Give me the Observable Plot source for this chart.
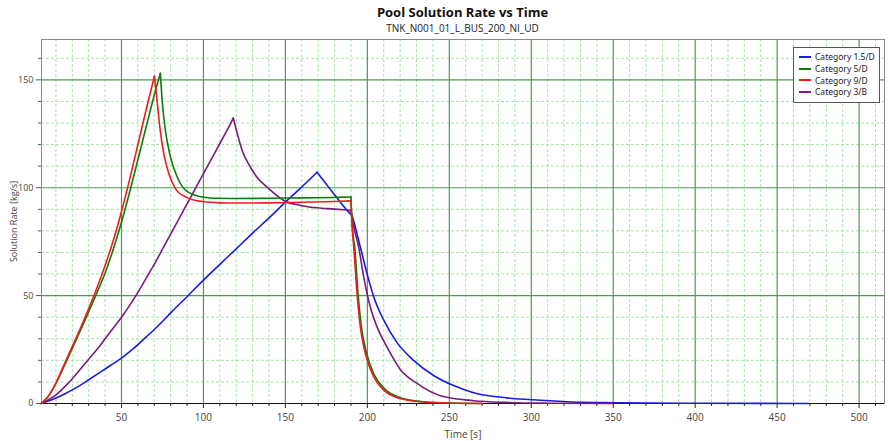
<!DOCTYPE html>
<html>
<head>
<meta charset="utf-8">
<script src="https://cdn.jsdelivr.net/npm/d3@7"></script>
<script src="https://cdn.jsdelivr.net/npm/@observablehq/plot@0.6"></script>
<style>
  body { margin: 0; background: #fff; font-family: "Open Sans", "Noto Sans", sans-serif; }
  #wrap { position: relative; width: 888px; height: 441px; }
  #title { position: absolute; left: 41px; width: 843px; top: 3px; text-align: center; font-weight: bold; font-size: 13px; color: #111; }
  #subtitle { position: absolute; left: 41px; width: 843px; top: 21px; text-align: center; font-size: 10px; color: #222; }
  #chart { position: absolute; left: 0; top: 34px; }
  #legend { position: absolute; left: 793px; top: 47px; width: 87px; height: 56px; background: #fff; border: 1px solid #555; font-size: 8.5px; color: #222; padding-top: 3px; box-sizing: border-box; white-space: nowrap; font-family: "Noto Sans", "Open Sans", sans-serif; }
  .item { display: flex; align-items: center; height: 11.7px; }
  .sw { width: 12px; height: 2px; margin-left: 5px; margin-right: 4px; flex: none; }
</style>
</head>
<body>
<div id="wrap">
  <div id="title">Pool Solution Rate vs Time</div>
  <div id="subtitle">TNK_N001_01_L_BUS_200_NI_UD</div>
  <div id="chart"></div>
  <div id="legend"></div>
</div>
<script>
// ---- Data ----
const seriesNames = ["Category 1.5/D", "Category 5/D", "Category 9/D", "Category 3/B"];
const seriesColors = ["#1a1ae6", "#0a7d0a", "#f01c1c", "#7a1a82"];

// Category 1.5/D (blue)
const blueT = [1, 5, 10, 15, 20, 25, 30, 35, 40, 45, 50, 55, 60, 65, 70, 75, 80, 90, 100, 110, 120, 130, 140, 150, 160, 169.3, 175, 180, 187.6, 190.7, 191.7, 195.7, 199.8, 203.9, 210, 218.1, 228.2, 240.4, 252.6, 264.8, 285, 305.5, 325.6, 350, 400, 469];
const blueV = [0, 1, 2.5, 4.3, 6.3, 8.5, 11, 13.5, 16, 18.5, 21, 24, 27.3, 30.8, 34.3, 38, 42, 49.5, 57.2, 64.5, 71.7, 79, 86, 93.3, 100.4, 107.2, 101.6, 96.8, 89.5, 87, 84.5, 72.5, 60.2, 49.4, 38.6, 28.2, 20, 13, 8.3, 5, 2.6, 1.5, 0.7, 0.35, 0.1, 0];
const blueCorners = [169.3, 190.7];

// Category 5/D (green)
const greenT = [1, 5, 10, 15, 20, 25, 30, 35, 40, 45, 50, 55, 60, 65, 70, 73.7, 74.8, 76.8, 79.9, 84, 90, 100, 110, 120, 140, 160, 180, 190, 190.3, 191, 192.3, 194.2, 196.2, 199.3, 204.4, 210.5, 220.5, 234.5, 250, 270];
const greenV = [0, 3, 9.3, 17.3, 25.5, 34, 42.5, 51.3, 60.5, 71.5, 84, 98, 113, 128, 143, 153, 140.4, 126.5, 114.2, 105, 98.3, 95.6, 95.1, 95.0, 95.1, 95.3, 95.5, 95.7, 90, 80, 72.5, 52, 36.5, 24, 13, 6.8, 2.6, 0.8, 0.2, 0];
const greenCorners = [73.7, 190];

// Category 9/D (red)
const redT = [1, 5, 10, 15, 20, 25, 30, 35, 40, 45, 50, 55, 60, 65, 70.1, 71.7, 73.4, 75.8, 78.9, 83, 90, 98.2, 110, 120, 140, 160, 180, 190, 190.3, 191, 191.7, 193.7, 195.7, 198.8, 203.9, 210, 220, 234, 250, 270];
const redV = [0, 3, 9.5, 18, 26.5, 35, 44, 53.5, 64, 75.5, 89, 104, 120, 136, 151.7, 140.4, 128, 115.7, 106.5, 99.5, 95.4, 93.7, 93.0, 92.9, 93.0, 93.3, 93.6, 93.9, 88, 79, 72.5, 51, 35.5, 23.1, 12.3, 6.2, 2.3, 0.7, 0.2, 0];
const redCorners = [70.1, 190];

// Category 3/B (purple)
const purpleT = [1, 5, 10, 15, 20, 25, 30, 35, 40, 45, 50, 55, 60, 65, 70, 75, 80, 85, 90, 95, 100, 105, 110, 115, 118.2, 120, 123.6, 128.7, 133, 138.8, 149, 159, 169.3, 180, 189.8, 190.5, 192, 194.7, 197.8, 201.8, 205.9, 212, 220.1, 230.3, 244.5, 264.8, 285, 310, 350];
const purpleV = [0, 1.5, 4, 7.5, 11.5, 16, 20.5, 25, 30, 35, 40, 45.5, 51.5, 58, 64.5, 71.5, 78.5, 85.5, 92.5, 99.5, 106.5, 113.5, 120.5, 127.5, 132.3, 127, 117.3, 109.5, 104.5, 100.3, 94.1, 91.8, 90.7, 90.1, 89.5, 87.5, 81, 72.5, 58.6, 44.7, 35.5, 26.2, 15.8, 9.3, 3.6, 1.3, 0.5, 0.15, 0];
const purpleCorners = [118.2, 189.8];

// Axis ticks
const xMajorTicks = [50, 100, 150, 200, 250, 300, 350, 400, 450, 500];
const yMajorTicks = [0, 50, 100, 150];
const xMinorTicks = [10, 20, 30, 40, 60, 70, 80, 90, 110, 120, 130, 140, 160, 170, 180, 190, 210, 220, 230, 240, 260, 270, 280, 290, 310, 320, 330, 340, 360, 370, 380, 390, 410, 420, 430, 440, 460, 470, 480, 490, 510];
const yMinorTicks = [10, 20, 30, 40, 60, 70, 80, 90, 110, 120, 130, 140, 160];

// ---- Build table: split each series at its sharp corners so each piece is smoothed separately ----
const seriesT = [blueT, greenT, redT, purpleT];
const seriesV = [blueV, greenV, redV, purpleV];
const seriesCorners = [blueCorners, greenCorners, redCorners, purpleCorners];
const rows = [];
seriesNames.forEach((name, k) => {
  const T = seriesT[k], V = seriesV[k], C = seriesCorners[k];
  let seg = 0;
  T.forEach((t, i) => {
    rows.push({ name, seg: name + "#" + seg, t, v: V[i] });
    if (C.includes(t)) { seg++; rows.push({ name, seg: name + "#" + seg, t, v: V[i] }); }
  });
});
const drawOrder = ["Category 1.5/D", "Category 3/B", "Category 5/D", "Category 9/D"];

const minorColor = "#a9e3a9";
const majorColor = "#4f9a4f";

const chart = Plot.plot({
  width: 888,
  height: 407,
  marginTop: 5,
  marginBottom: 38,
  marginLeft: 41,
  marginRight: 4,
  style: { fontFamily: "'Open Sans', 'Noto Sans', sans-serif", fontSize: "10px", color: "#444", background: "transparent" },
  x: { domain: [1.2, 515.5] },
  y: { domain: [0, 168.7] },
  color: { domain: seriesNames, range: seriesColors },
  marks: [
    Plot.ruleX(xMinorTicks, { stroke: minorColor, strokeDasharray: "3,2", strokeWidth: 1 }),
    Plot.ruleY(yMinorTicks, { stroke: minorColor, strokeDasharray: "3,2", strokeWidth: 1 }),
    Plot.ruleX(xMajorTicks, { stroke: majorColor, strokeWidth: 1.2 }),
    Plot.ruleY(yMajorTicks.filter(d => d > 0), { stroke: majorColor, strokeWidth: 1.2 }),
    Plot.frame({ stroke: "#8a8a8a" }),
    Plot.axisX({ ticks: xMinorTicks, tickSize: 3, tickFormat: () => "", label: null, stroke: "#222" }),
    Plot.axisX({ ticks: xMajorTicks, tickSize: 5, tickPadding: 5, label: "Time [s]", labelAnchor: "center", labelArrow: "none", labelOffset: 34, stroke: "#222", fill: "#444" }),
    Plot.axisY({ ticks: yMinorTicks, tickSize: 3, tickFormat: () => "", label: null, stroke: "#555" }),
    Plot.axisY({ ticks: yMajorTicks, tickSize: 5, tickPadding: 3, label: "Solution Rate [kg/s]", labelAnchor: "center", labelArrow: "none", labelOffset: 31, stroke: "#555", fill: "#444", fontSize: 9 }),
    Plot.ruleY([0], { stroke: "#111", strokeWidth: 1.2 }),
    ...drawOrder.map(n => Plot.line(rows.filter(r => r.name === n), { x: "t", y: "v", z: "seg", stroke: "name", strokeWidth: 1.6, curve: "monotone-x" }))
  ]
});
document.getElementById("chart").appendChild(chart);

// Legend (HTML)
const legend = document.getElementById("legend");
seriesNames.forEach((n, i) => {
  const it = document.createElement("div");
  it.className = "item";
  const sw = document.createElement("span");
  sw.className = "sw";
  sw.style.background = seriesColors[i];
  const tx = document.createElement("span");
  tx.textContent = n;
  it.appendChild(sw); it.appendChild(tx);
  legend.appendChild(it);
});
</script>
</body>
</html>
